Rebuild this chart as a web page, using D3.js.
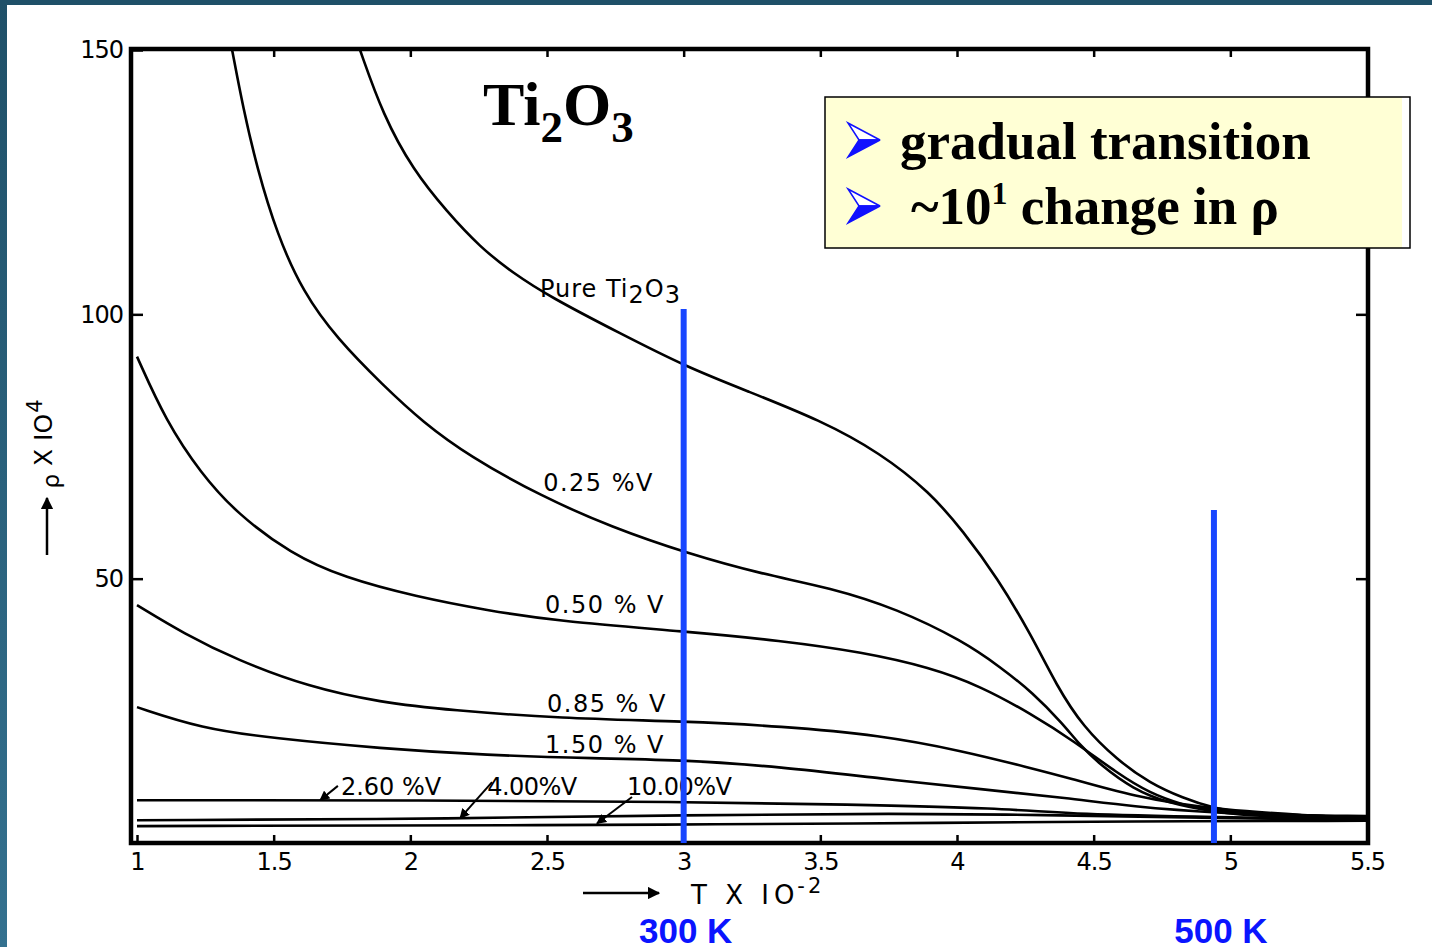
<!DOCTYPE html>
<html>
<head>
<meta charset="utf-8">
<script src="https://cdn.jsdelivr.net/npm/d3@7"></script>
<style>
  html, body { margin: 0; padding: 0; background: #fff; }
  svg { display: block; }
</style>
</head>
<body>
<div id="chart"></div>
<script>
// values: T in units of 100 K, rho x 10^4
var pureT   = [1.816, 1.90, 2.01, 2.134, 2.255, 2.376, 2.511, 2.767, 3.012, 3.232, 3.499, 3.719, 3.902, 4.022, 4.147, 4.27, 4.366, 4.461, 4.586, 4.706, 4.827, 4.937, 5.072, 5.5];
var pureRho = [150, 137.7, 127.3, 119.4, 112.7, 107.8, 103.3, 96.4, 90.0, 85.5, 80.0, 73.8, 66.3, 59.0, 50.2, 39.5, 29.6, 22.0, 15.7, 11.3, 8.5, 6.6, 5.3, 5.1];

var v025T   = [1.348, 1.388, 1.439, 1.512, 1.607, 1.732, 1.90, 2.046, 2.215, 2.478, 2.738, 3.012, 3.291, 3.536, 3.781, 4.022, 4.158, 4.278, 4.388, 4.45, 4.524, 4.644, 4.769, 4.937, 5.109, 5.5];
var v025Rho = [150, 139.1, 127.7, 115.2, 104.2, 95.4, 86.6, 79.6, 73.2, 65.6, 59.7, 54.8, 50.8, 48.3, 44.3, 38.2, 33.3, 28.4, 22.5, 18.5, 14.8, 10.2, 7.6, 5.9, 4.9, 4.8];

var v050T   = [1.0, 1.106, 1.234, 1.366, 1.563, 1.757, 2.021, 2.281, 2.544, 3.012, 3.353, 3.656, 3.902, 4.085, 4.272, 4.43, 4.586, 4.706, 4.827, 4.937, 5.5];
var v050Rho = [92, 79.8, 69.9, 62.3, 54.7, 50.2, 46.6, 44.0, 41.9, 40.0, 38.3, 36.1, 33.2, 29.7, 24.4, 19.2, 13.2, 9.4, 7.2, 5.9, 4.7];

var v085T   = [1.0, 1.172, 1.366, 1.629, 1.889, 2.149, 2.544, 3.012, 3.353, 3.719, 4.022, 4.267, 4.403, 4.644, 4.937, 5.5];
var v085Rho = [45, 39.6, 34.6, 29.5, 26.6, 25.1, 23.6, 23.0, 22.1, 20.4, 17.4, 14.2, 12.4, 8.8, 6.2, 4.6];

var v150T   = [1.0, 1.234, 1.498, 1.889, 2.281, 2.672, 3.012, 3.353, 3.719, 4.1, 4.403, 4.644, 4.937, 5.5];
var v150Rho = [25.7, 21.7, 19.8, 17.9, 16.6, 16.0, 15.7, 14.4, 12.2, 10.1, 8.5, 6.9, 5.7, 4.5];

var v260T   = [1.0, 2.0, 3.012, 3.6, 4.158, 4.44, 4.937, 5.5];
var v260Rho = [8.1, 8.1, 7.8, 7.3, 6.6, 5.4, 4.9, 4.4];

var v400T   = [1.0, 2.2, 3.0, 3.8, 4.3, 4.9, 5.5];
var v400Rho = [4.3, 4.6, 5.3, 5.6, 5.3, 4.8, 4.3];

var v1000T   = [1.0, 2.69, 3.0, 4.0, 4.6, 5.5];
var v1000Rho = [3.2, 3.4, 3.5, 3.8, 4.1, 4.2];

var xTicks = [1, 1.5, 2, 2.5, 3, 3.5, 4, 4.5, 5, 5.5];
var xTickLabels = ['1', '1.5', '2', '2.5', '3', '3.5', '4', '4.5', '5', '5.5'];
var yTicks = [50, 100, 150];
var yTickLabels = ['50', '100', '150'];

var markT = [3.0, 4.94];          // the two blue marker lines
var markTop = [101, 63];
var markLabels = ['300 K', '500 K'];

var bullets = ['gradual transition', '~10', 'change in ρ'];

var width = 1432, height = 947;
var svg = d3.select('#chart').append('svg')
  .attr('width', width)
  .attr('height', height);

// slide frame
var defs = svg.append('defs');
var grad = defs.append('linearGradient').attr('id', 'sideGrad')
  .attr('x1', 0).attr('y1', 0).attr('x2', 0).attr('y2', 1);
grad.append('stop').attr('offset', '0%').attr('stop-color', '#1f5068');
grad.append('stop').attr('offset', '100%').attr('stop-color', '#34718f');

svg.append('rect').attr('x', 0).attr('y', 0).attr('width', width).attr('height', height).attr('fill', '#fff');
svg.append('rect').attr('x', 0).attr('y', 0).attr('width', width).attr('height', 5).attr('fill', '#1f5068');
svg.append('rect').attr('x', 0).attr('y', 0).attr('width', 7).attr('height', height).attr('fill', 'url(#sideGrad)');

var x = d3.scaleLinear().domain([1, 5.5]).range([137, 1367]);
var y = d3.scaleLinear().domain([0, 150]).range([843, 50]);

var frameL = x(1) - 6, frameR = x(5.5) + 1, frameT = y(150) - 1, frameB = y(0);

defs.append('clipPath').attr('id', 'plotClip')
  .append('rect')
  .attr('x', frameL).attr('y', frameT)
  .attr('width', frameR - frameL).attr('height', frameB - frameT);

// axes
var fontAxis = "'DejaVu Sans', sans-serif";

svg.append('g')
  .attr('transform', `translate(0,${frameB})`)
  .call(d3.axisBottom(x).tickValues(xTicks)
    .tickFormat((d, i) => xTickLabels[i])
    .tickSizeInner(-8).tickSizeOuter(0).tickPadding(10));

svg.append('g')
  .attr('transform', `translate(0,${frameT})`)
  .call(d3.axisTop(x).tickValues(xTicks.slice(1, -1))
    .tickFormat('').tickSizeInner(-8).tickSizeOuter(0));

svg.append('g')
  .attr('transform', `translate(${frameL},0)`)
  .call(d3.axisLeft(y).tickValues(yTicks)
    .tickFormat((d, i) => yTickLabels[i])
    .tickSizeInner(-12).tickSizeOuter(0).tickPadding(8));

svg.append('g')
  .attr('transform', `translate(${frameR},0)`)
  .call(d3.axisRight(y).tickValues([50, 100])
    .tickFormat('').tickSizeInner(-12).tickSizeOuter(0));

svg.selectAll('.domain').remove();
svg.selectAll('.tick line').attr('stroke', '#000').attr('stroke-width', 2.5);
svg.selectAll('.tick text')
  .attr('fill', '#000')
  .style('font-family', fontAxis)
  .style('font-size', '24px')
  .style('letter-spacing', '-1px');

// frame
svg.append('rect')
  .attr('x', frameL).attr('y', frameT)
  .attr('width', frameR - frameL).attr('height', frameB - frameT)
  .attr('fill', 'none').attr('stroke', '#000').attr('stroke-width', 4.5);

// curves
var series = [
  [pureT, pureRho], [v025T, v025Rho], [v050T, v050Rho], [v085T, v085Rho],
  [v150T, v150Rho], [v260T, v260Rho], [v400T, v400Rho], [v1000T, v1000Rho]
];

// hand-drawn curves: smooth through the read points
var line = d3.line()
  .x(d => x(d[0]))
  .y(d => y(d[1]))
  .curve(d3.curveBasis);

svg.append('g').attr('clip-path', 'url(#plotClip)')
  .selectAll('path')
  .data(series)
  .enter().append('path')
  .attr('d', s => line(s[0].map((t, i) => [t, s[1][i]])))
  .attr('fill', 'none')
  .attr('stroke', '#000')
  .attr('stroke-width', 2.6);

// curve labels
var lab = svg.append('g')
  .style('font-family', fontAxis)
  .style('font-size', '24px')
  .attr('fill', '#000');

var pure = lab.append('text').attr('x', x(2.474)).attr('y', y(103.3)).style('letter-spacing', '1px');
pure.append('tspan').text('Pure Ti');
pure.append('tspan').attr('dy', 6).text('2');
pure.append('tspan').attr('dy', -6).text('O');
pure.append('tspan').attr('dy', 6).text('3');

lab.append('text').attr('x', x(2.486)).attr('y', y(66.6)).style('letter-spacing', '1.5px').text('0.25 %V');
lab.append('text').attr('x', x(2.493)).attr('y', y(43.5)).style('letter-spacing', '1.5px').text('0.50 % V');
lab.append('text').attr('x', x(2.50)).attr('y', y(24.8)).style('letter-spacing', '1.5px').text('0.85 % V');
lab.append('text').attr('x', x(2.493)).attr('y', y(17.0)).style('letter-spacing', '1.5px').text('1.50 % V');
lab.append('text').attr('x', x(1.746)).attr('y', y(9.1)).style('letter-spacing', '0px').text('2.60 %V');
lab.append('text').attr('x', x(2.281)).attr('y', y(9.1)).style('letter-spacing', '-0.5px').text('4.00%V');
lab.append('text').attr('x', x(2.793)).attr('y', y(9.1)).style('letter-spacing', '-0.5px').text('10.00%V');

// pointer arrows for the bottom labels
defs.append('marker').attr('id', 'ah')
  .attr('viewBox', '0 0 10 10').attr('refX', 9).attr('refY', 5)
  .attr('markerWidth', 5).attr('markerHeight', 5).attr('orient', 'auto')
  .append('path').attr('d', 'M0,0L10,5L0,10z').attr('fill', '#000');

var pointers = [
  [1.735, 10.8, 1.67, 8.1],
  [2.299, 11.5, 2.182, 4.7],
  [2.811, 8.7, 2.683, 3.7]
];
svg.append('g').selectAll('line').data(pointers).enter().append('line')
  .attr('x1', d => x(d[0])).attr('y1', d => y(d[1]))
  .attr('x2', d => x(d[2])).attr('y2', d => y(d[3]))
  .attr('stroke', '#000').attr('stroke-width', 2)
  .attr('marker-end', 'url(#ah)');

// axis titles
var yt = svg.append('g').attr('transform', 'translate(52,444) rotate(-90)')
  .style('font-family', fontAxis).style('font-size', '25px');
var ytText = yt.append('text').attr('text-anchor', 'middle').attr('fill', '#000');
ytText.append('tspan').attr('dy', 7).style('font-size', '23px').text('ρ');
ytText.append('tspan').attr('dy', -7).text(' X IO');
ytText.append('tspan').attr('dy', -10).attr('dx', 1).style('font-size', '21px').text('4');
yt.append('line').attr('x1', -111).attr('x2', -54).attr('y1', -5).attr('y2', -5)
  .attr('stroke', '#000').attr('stroke-width', 2.5).attr('marker-end', 'url(#ah)');

var xt = svg.append('g').style('font-family', fontAxis).style('font-size', '26px');
xt.append('line').attr('x1', 583).attr('x2', 659).attr('y1', 893).attr('y2', 893)
  .attr('stroke', '#000').attr('stroke-width', 2.5).attr('marker-end', 'url(#ah)');
var xtText = xt.append('text').attr('x', 691).attr('y', 904).attr('fill', '#000').style('letter-spacing', '5px');
xtText.append('tspan').text('T X IO');
xtText.append('tspan').attr('dy', -11).attr('dx', -2).style('font-size', '21px').style('letter-spacing', '3px').text('-2');

// blue marker lines and labels
var blueLine = '#1846ff', blueText = '#0a14ff';
svg.append('g').selectAll('line').data(markT).enter().append('line')
  .attr('x1', d => x(d)).attr('x2', d => x(d))
  .attr('y1', (d, i) => y(markTop[i])).attr('y2', y(0))
  .attr('stroke', blueLine).attr('stroke-width', 6);

var markLabelX = [x(3.0) + 2, x(4.94) + 7];
svg.append('g').selectAll('text').data(markLabels).enter().append('text')
  .attr('x', (d, i) => markLabelX[i]).attr('y', 943)
  .attr('text-anchor', 'middle')
  .attr('fill', blueText)
  .style('font-family', "'Liberation Sans', Arial, sans-serif")
  .style('font-weight', 'bold')
  .style('font-size', '35px')
  .text(d => d);

// title
var title = svg.append('text').attr('x', 483).attr('y', 125)
  .attr('fill', '#000')
  .style('font-family', "'Liberation Serif', 'Times New Roman', serif")
  .style('font-weight', 'bold')
  .style('font-size', '62px');
title.append('tspan').text('Ti');
title.append('tspan').attr('dy', 17).style('font-size', '45px').text('2');
title.append('tspan').attr('dy', -17).text('O');
title.append('tspan').attr('dy', 17).style('font-size', '45px').text('3');

// note box
var box = svg.append('g');
box.append('rect').attr('x', 825).attr('y', 97).attr('width', 585).attr('height', 151)
  .attr('fill', '#fff');
box.append('rect').attr('x', 825).attr('y', 97).attr('width', 577).attr('height', 151)
  .attr('fill', '#ffffd5');
box.append('rect').attr('x', 825).attr('y', 97).attr('width', 585).attr('height', 151)
  .attr('fill', 'none').attr('stroke', '#000').attr('stroke-width', 1.5);

var bulletY = [140, 206];
bulletY.forEach(function (cy) {
  box.append('path')
    .attr('d', `M848,${cy - 17}L880,${cy}L859,${cy}Z`)
    .attr('fill', '#fff').attr('stroke', '#1010ff').attr('stroke-width', 1.5);
  box.append('path')
    .attr('d', `M859,${cy}L880,${cy}L848,${cy + 17}Z`)
    .attr('fill', '#1010ff').attr('stroke', '#1010ff').attr('stroke-width', 1.5);
});

var boxFont = "'Liberation Serif', 'Times New Roman', serif";
box.append('text').attr('x', 900).attr('y', 159)
  .attr('fill', '#000')
  .style('font-family', boxFont).style('font-weight', 'bold').style('font-size', '53px')
  .text(bullets[0]);
var b2 = box.append('text').attr('x', 911).attr('y', 224)
  .attr('fill', '#000')
  .style('font-family', boxFont).style('font-weight', 'bold').style('font-size', '53px');
b2.append('tspan').text(bullets[1]);
b2.append('tspan').attr('dy', -20).style('font-size', '32px').text('1');
b2.append('tspan').attr('dy', 20).text(' ' + bullets[2]);
</script>
</body>
</html>
